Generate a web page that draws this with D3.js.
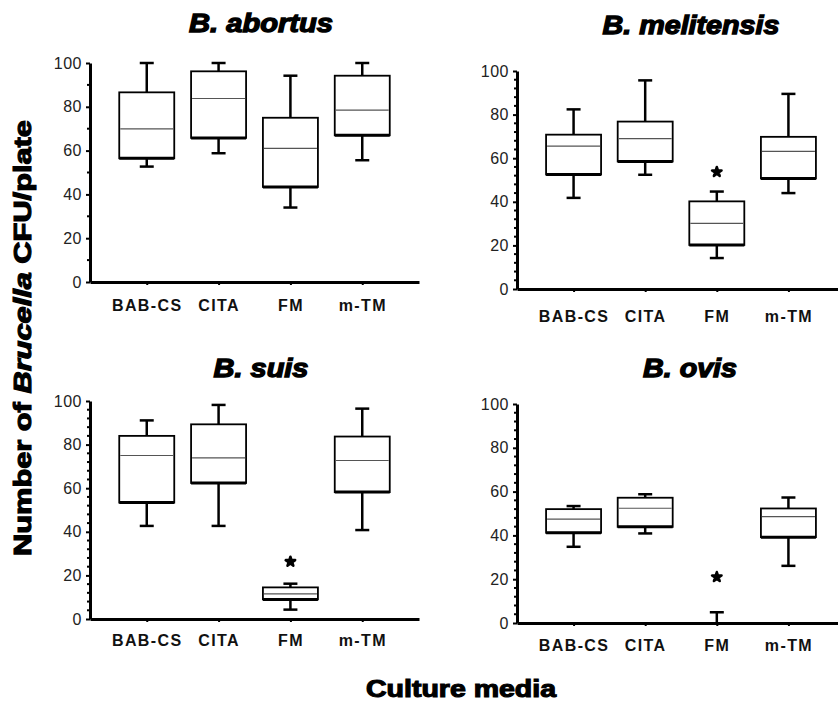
<!DOCTYPE html>
<html>
<head>
<meta charset="utf-8">
<script src="https://cdn.jsdelivr.net/npm/d3@7"></script>
<style>
  body { margin: 0; background: #fff; }
  svg { display: block; }
  .axis path, .axis line { stroke: #000; }
</style>
</head>
<body>
<div id="chart"></div>
<script>
// culture media on the x axis
var media = ["BAB-CS", "CITA", "FM", "m-TM"];
var species = ["B. abortus", "B. melitensis", "B. suis", "B. ovis"];
var yTicks = [0, 20, 40, 60, 80, 100];

// [min, q1, median, q3, max] for each medium
var abortus    = [[52.7, 56.5, 69.9, 86.6, 100], [58.8, 65.8, 83.8, 96.2, 100], [34, 43.4, 61, 75, 94.2], [55.6, 67, 78.5, 94.2, 100]];
var melitensis = [[41.8, 52.5, 65.5, 70.8, 82.4], [52.4, 58.5, 69, 76.8, 95.7], [14.2, 20.2, 30.1, 40.2, 44.7], [44, 50.7, 63.1, 69.8, 89.5]];
var suis       = [[42.7, 53.4, 75, 84, 91.1], [42.7, 62.4, 73.9, 89.3, 98.2], [4.3, 9, 11.5, 14.5, 16.2], [40.8, 58.2, 72.7, 83.7, 96.5]];
var ovis       = [[34.8, 41.2, 47.4, 52, 53.4], [40.9, 43.9, 52.4, 57.2, 58.8], [0, 0, 0, 0, 4.9], [26.1, 39.2, 48.6, 52.3, 57.3]];

// asterisk (significant difference) above FM
var asterisk = [null, 53.7, 26.3, 21];

var allData = [abortus, melitensis, suis, ovis];

var svg = d3.select("#chart").append("svg")
  .attr("width", 838)
  .attr("height", 705);

// panel frames
var panels = [
  { x0: 90,  x1: 419, yBot: 282, yTop: 63,  titleX: 261, titleY: 32,  titleW: 144, labelOff: 29, minor: 10 },
  { x0: 517, x1: 845, yBot: 289, yTop: 71,  titleX: 691, titleY: 34,  titleW: 177, labelOff: 33, minor: 4 },
  { x0: 90,  x1: 419, yBot: 619, yTop: 401, titleX: 261, titleY: 377, titleW: 95,  labelOff: 27, minor: 4 },
  { x0: 517, x1: 845, yBot: 623, yTop: 404, titleX: 690, titleY: 377, titleW: 94,  labelOff: 28, minor: 4 }
];

panels.forEach(function(p, i) {
  var g = svg.append("g");

  var xScale = d3.scalePoint()
    .domain(media)
    .range([p.x0, p.x1])
    .padding(0.79);

  var yScale = d3.scaleLinear()
    .domain([0, 100])
    .range([p.yBot, p.yTop]);

  // minor ticks
  var minorVals = d3.range(0, 101, p.minor).filter(function(v) { return v % 20 !== 0; });
  g.selectAll(".minor")
    .data(minorVals)
    .enter()
    .append("line")
    .attr("x1", p.x0 - 3)
    .attr("x2", p.x0)
    .attr("y1", d => yScale(d))
    .attr("y2", d => yScale(d))
    .attr("stroke", "#000")
    .attr("stroke-width", 2);

  var yAxis = d3.axisLeft(yScale)
    .tickValues(yTicks)
    .tickSize(4)
    .tickSizeOuter(0)
    .tickPadding(4)
    .tickFormat(d3.format("d"));

  var yg = g.append("g")
    .attr("class", "axis")
    .attr("transform", `translate(${p.x0}, 0)`)
    .call(yAxis);
  yg.select(".domain").attr("stroke-width", 3);
  yg.selectAll("line").attr("stroke-width", 2);
  yg.selectAll("text")
    .attr("font-family", "Liberation Sans, Arial, sans-serif")
    .attr("font-size", 16)
    .attr("letter-spacing", 0.5)
    .attr("fill", "#222");

  var xAxis = d3.axisBottom(xScale)
    .tickSize(3)
    .tickSizeOuter(0)
    .tickPadding(p.labelOff - 3 - 11.4);

  var xg = g.append("g")
    .attr("class", "axis")
    .attr("transform", `translate(0, ${p.yBot})`)
    .call(xAxis);
  xg.select(".domain").attr("stroke-width", 3);
  xg.selectAll("line").attr("stroke-width", 2);
  xg.selectAll("text")
    .attr("font-family", "Liberation Sans, Arial, sans-serif")
    .attr("font-size", 16)
    .attr("font-weight", "bold")
    .attr("letter-spacing", 1.4)
    .attr("fill", "#111");

  var boxW = 55, capW = 14;
  var data = allData[i];

  var boxes = g.selectAll(".box")
    .data(data)
    .enter()
    .append("g")
    .attr("class", "box")
    .attr("transform", (d, j) => `translate(${xScale(media[j])}, 0)`);

  // upper whisker
  boxes.append("line")
    .attr("x1", 0).attr("x2", 0)
    .attr("y1", d => yScale(d[3]))
    .attr("y2", d => yScale(d[4]))
    .attr("stroke", "#000").attr("stroke-width", 2.5);
  // lower whisker
  boxes.append("line")
    .attr("x1", 0).attr("x2", 0)
    .attr("y1", d => yScale(d[1]))
    .attr("y2", d => yScale(d[0]))
    .attr("stroke", "#000").attr("stroke-width", 2.5);
  // caps
  boxes.append("line")
    .attr("x1", -capW / 2).attr("x2", capW / 2)
    .attr("y1", d => yScale(d[4]))
    .attr("y2", d => yScale(d[4]))
    .attr("stroke", "#000").attr("stroke-width", 2.5);
  boxes.filter(d => d[0] > 0).append("line")
    .attr("x1", -capW / 2).attr("x2", capW / 2)
    .attr("y1", d => yScale(d[0]))
    .attr("y2", d => yScale(d[0]))
    .attr("stroke", "#000").attr("stroke-width", 2.5);

  var realBoxes = boxes.filter(d => d[3] > d[1]);
  realBoxes.append("rect")
    .attr("x", -boxW / 2)
    .attr("width", boxW)
    .attr("y", d => yScale(d[3]))
    .attr("height", d => yScale(d[1]) - yScale(d[3]))
    .attr("fill", "#fff")
    .attr("stroke", "#000")
    .attr("stroke-width", 1.8);
  // thicker bottom edge
  realBoxes.append("line")
    .attr("x1", -boxW / 2).attr("x2", boxW / 2)
    .attr("y1", d => yScale(d[1]))
    .attr("y2", d => yScale(d[1]))
    .attr("stroke", "#000").attr("stroke-width", 3);
  // median
  realBoxes.append("line")
    .attr("x1", -boxW / 2 + 1).attr("x2", boxW / 2 - 1)
    .attr("y1", d => yScale(d[2]))
    .attr("y2", d => yScale(d[2]))
    .attr("stroke", "#555").attr("stroke-width", 1.2);

  if (asterisk[i] !== null) {
    g.append("path")
      .attr("d", d3.symbol(d3.symbolStar).size(28)())
      .attr("transform", `translate(${xScale("FM")}, ${yScale(asterisk[i])})`)
      .attr("fill", "#000")
      .attr("stroke", "#000")
      .attr("stroke-width", 2.5)
      .attr("stroke-linejoin", "round");
  }

  // panel title
  g.append("text")
    .attr("x", p.titleX)
    .attr("y", p.titleY)
    .attr("text-anchor", "middle")
    .attr("font-family", "Liberation Sans, Arial, sans-serif")
    .attr("font-size", 25)
    .attr("font-weight", "bold")
    .attr("font-style", "italic")
    .attr("stroke", "#000")
    .attr("stroke-width", 1.3)
    .attr("fill", "#000")
    .attr("textLength", p.titleW)
    .attr("lengthAdjust", "spacingAndGlyphs")
    .text(species[i]);
});

// shared axis titles
var yLabel = svg.append("text")
  .attr("transform", "translate(31, 338) rotate(-90)")
  .attr("text-anchor", "middle")
  .attr("font-family", "Liberation Sans, Arial, sans-serif")
  .attr("font-size", 23)
  .attr("font-weight", "bold")
  .attr("stroke", "#000")
  .attr("stroke-width", 1.1)
  .attr("textLength", 436)
  .attr("lengthAdjust", "spacingAndGlyphs");
yLabel.append("tspan").text("Number of ");
yLabel.append("tspan").attr("font-style", "italic").text("Brucella");
yLabel.append("tspan").text(" CFU/plate");

svg.append("text")
  .attr("x", 461)
  .attr("y", 697)
  .attr("text-anchor", "middle")
  .attr("font-family", "Liberation Sans, Arial, sans-serif")
  .attr("font-size", 23)
  .attr("font-weight", "bold")
  .attr("stroke", "#000")
  .attr("stroke-width", 1.1)
  .attr("textLength", 190)
  .attr("lengthAdjust", "spacingAndGlyphs")
  .text("Culture media");
</script>
</body>
</html>
